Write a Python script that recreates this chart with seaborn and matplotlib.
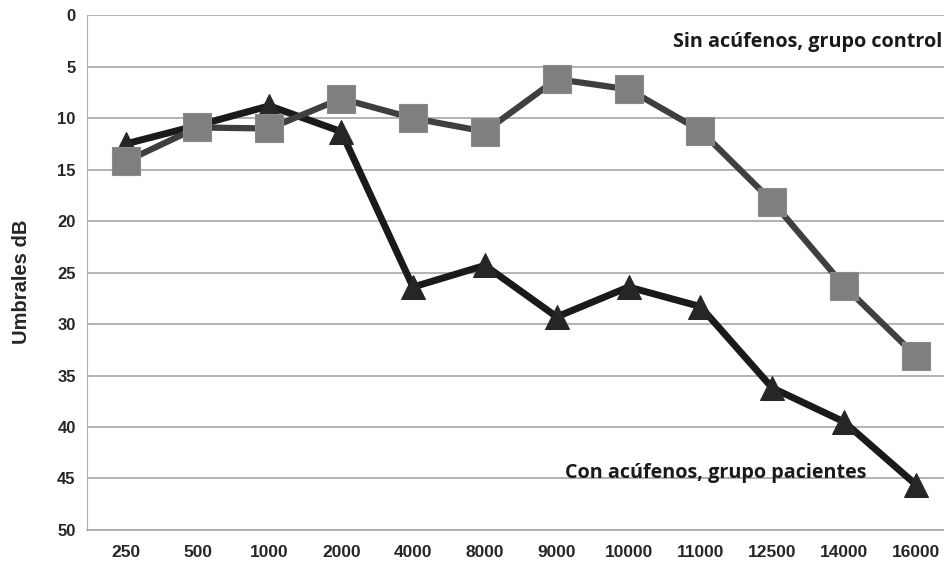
import numpy as np
import pandas as pd
import matplotlib
matplotlib.use('Agg')
import matplotlib.pyplot as plt
import seaborn as sns

sns.set_style('white')
plt.rcParams['font.family'] = ['Liberation Sans', 'DejaVu Sans']

# frecuencias (Hz) y umbrales (dB)
freqs = ['250', '500', '1000', '2000', '4000', '8000', '9000', '10000', '11000', '12500', '14000', '16000']
control = [14.2, 10.9, 11.0, 8.1, 10.0, 11.3, 6.2, 7.2, 11.2, 18.1, 26.3, 33.1]
pacientes = [12.5, 10.7, 8.8, 11.3, 26.4, 24.3, 29.3, 26.4, 28.3, 36.2, 39.5, 45.6]
y_ticks = [0, 5, 10, 15, 20, 25, 30, 35, 40, 45, 50]

df = pd.DataFrame({'pos': range(len(freqs)), 'freq': freqs,
                   'control': control, 'pacientes': pacientes})

fig = plt.figure(figsize=(9.44, 5.65), dpi=100)
ax = fig.add_axes([0.092, 0.062, 0.908, 0.911])

sns.lineplot(x='pos', y='pacientes', data=df, ax=ax, color='#1a1a1a', linewidth=5,
             marker='^', markersize=17, markerfacecolor='#262626', markeredgecolor='#262626', zorder=3)
sns.lineplot(x='pos', y='control', data=df, ax=ax, color='#3f3f3f', linewidth=4.5,
             marker='s', markersize=20, markerfacecolor='#7f7f7f', markeredgecolor='#8a8a8a',
             markeredgewidth=0.8, zorder=4)

ax.set_ylim(50, 0)
ax.set_xlim(-0.54, 11.39)
ax.set_yticks(y_ticks)
ax.set_yticklabels([str(v) for v in y_ticks], fontweight='bold', fontsize=12)
ax.set_xticks(df['pos'])
ax.set_xticklabels(freqs, fontweight='bold', fontsize=12.5)
ax.tick_params(axis='both', length=0)
ax.tick_params(axis='x', pad=11)
ax.tick_params(axis='y', pad=8)
ax.yaxis.grid(True, color='#a6a6a6', linewidth=1.2)
ax.set_axisbelow(True)
for s in ['top', 'right']:
    ax.spines[s].set_visible(False)
ax.spines['left'].set_color('#b0b0b0')
ax.spines['bottom'].set_color('#a6a6a6')
ax.spines['bottom'].set_linewidth(1.2)
ax.set_xlabel('')
ax.set_ylabel('Umbrales dB', fontweight='bold', fontsize=14.5)
ax.yaxis.set_label_coords(-0.065, 0.483)

ax.text(11.37, 2.6, 'Sin acúfenos, grupo control', ha='right', va='center',
        fontsize=14.2, fontweight='bold', family=['Open Sans', 'DejaVu Sans'], color='#1a1a1a')
ax.text(8.21, 44.5, 'Con acúfenos, grupo pacientes', ha='center', va='center',
        fontsize=14.2, fontweight='bold', family=['Open Sans', 'DejaVu Sans'], color='#1a1a1a')

plt.savefig('out.png', dpi=100)
